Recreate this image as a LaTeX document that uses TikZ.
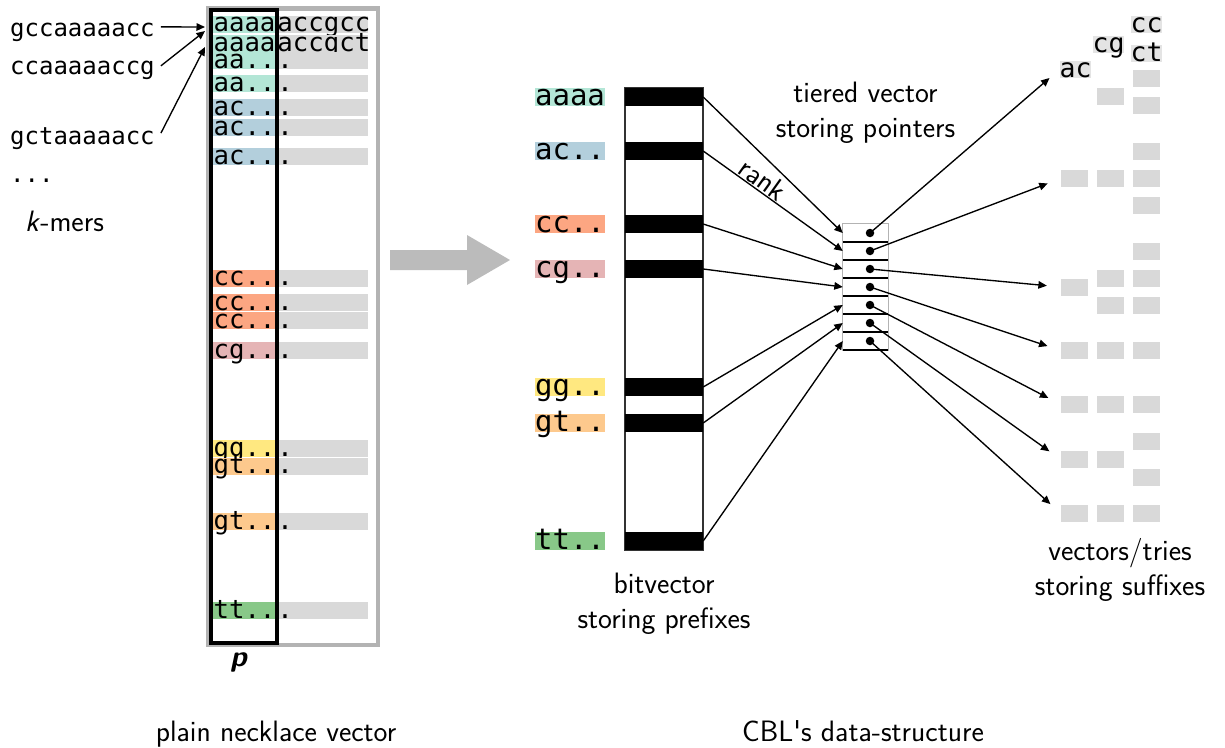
\documentclass[tikz,border=0pt]{standalone}
\usepackage{fontspec}
\setmonofont{DejaVu Sans Mono}
\usepackage{tikz}
\usetikzlibrary{positioning,arrows.meta}

\definecolor{aaC}{RGB}{179,230,214}
\definecolor{acC}{RGB}{179,207,220}
\definecolor{ccC}{RGB}{252,166,130}
\definecolor{cgC}{RGB}{229,180,181}
\definecolor{ggC}{RGB}{255,232,128}
\definecolor{gtC}{RGB}{253,201,141}
\definecolor{ttC}{RGB}{136,200,136}
\definecolor{barC}{RGB}{217,217,217}
\definecolor{frameC}{RGB}{179,179,179}
\definecolor{bigarrC}{RGB}{187,187,187}

\begin{document}
\begin{tikzpicture}[x=1pt,y=-1pt,
    kmer/.style={font=\fontsize{24}{28}\selectfont\ttfamily, anchor=base west, inner xsep=6pt, inner ysep=0pt},
    rowL/.style={font=\fontsize{25.7}{30}\selectfont\ttfamily, minimum width=63pt, text height=16pt, text depth=1pt, inner sep=0pt},
    rowR/.style={rowL, fill=barC, text width=91pt, align=left, minimum width=0pt},
    pre/.style={font=\fontsize{29}{34}\selectfont\ttfamily, minimum width=70pt, text height=17pt, text depth=1pt, inner sep=0pt},
    bit/.style={fill=black, minimum width=78pt, minimum height=18pt, inner sep=0pt},
    cell/.style={minimum width=45pt, minimum height=18pt, inner sep=0pt},
    dot/.style={circle, fill=black, minimum size=8.5pt, inner sep=0pt},
    sq/.style={fill=barC, minimum width=27pt, minimum height=17pt, inner sep=0pt},
    hdr/.style={sq, fill=barC!70, font=\fontsize{26.5}{30}\selectfont\ttfamily, text height=16pt, text depth=1pt, minimum height=0pt},
    lbl/.style={font=\fontsize{29.5}{35}\selectfont\sffamily, align=center},
    arr/.style={-{Triangle[length=8.5pt,width=7.5pt]}, line width=1.35pt}]

\useasboundingbox (0,0) rectangle (1225,747);

% k-mers on the left
\node[kmer] (km1) at (4,36) {gccaaaaacc};
\node[kmer] (km2) at (4,74) {ccaaaaaccg};
\node[kmer] (km3) at (4,144) {gctaaaaacc};
\node[kmer] (km4) at (4,182) {...};
\node[lbl, anchor=base west, inner sep=0pt] (kml) at (25,231.5) {\textit{k}-mers};

% plain necklace vector
\draw[frameC, line width=4.5pt] (208,8.5) rectangle (378,645);
\node[rowL, fill=aaC] (row1) at (244.5,24) {aaaa};     \node[rowR, right=1pt of row1] {accgcc};
\node[rowL, fill=aaC] (row2) at (244.5,43.5) {aaaa};   \node[rowR, right=1pt of row2] {accgct};
\node[rowL, fill=aaC] (row3) at (244.5,60.5) {aa..};   \node[rowR, right=1pt of row3] {.};
\node[rowL, fill=aaC] (row4) at (244.5,83.5) {aa..};   \node[rowR, right=1pt of row4] {.};
\node[rowL, fill=acC] (row5) at (244.5,107.5) {ac..};  \node[rowR, right=1pt of row5] {.};
\node[rowL, fill=acC] (row6) at (244.5,127.5) {ac..};  \node[rowR, right=1pt of row6] {.};
\node[rowL, fill=acC] (row7) at (244.5,156.5) {ac..};  \node[rowR, right=1pt of row7] {.};
\node[rowL, fill=ccC] (row8) at (244.5,278) {cc..};    \node[rowR, right=1pt of row8] {.};
\node[rowL, fill=ccC] (row9) at (244.5,302.5) {cc..};  \node[rowR, right=1pt of row9] {.};
\node[rowL, fill=ccC] (row10) at (244.5,320.5) {cc..}; \node[rowR, right=1pt of row10] {.};
\node[rowL, fill=cgC] (row11) at (244.5,350.5) {cg..}; \node[rowR, right=1pt of row11] {.};
\node[rowL, fill=ggC] (row12) at (244.5,448.5) {gg..}; \node[rowR, right=1pt of row12] {.};
\node[rowL, fill=gtC] (row13) at (244.5,466) {gt..};   \node[rowR, right=1pt of row13] {.};
\node[rowL, fill=gtC] (row14) at (244.5,521.5) {gt..}; \node[rowR, right=1pt of row14] {.};
\node[rowL, fill=ttC] (row15) at (244.5,610.5) {tt..}; \node[rowR, right=1pt of row15] {.};
\node[draw, line width=4pt, minimum width=65.5pt, minimum height=632.5pt, inner sep=0pt] (pcol) at (243.75,326.25) {};
\node[font=\fontsize{29.5}{35}\selectfont\sffamily\bfseries\itshape, below=8pt of pcol, xshift=-5pt, inner sep=0pt] (plbl) {p};

\coordinate (a1) at (205,27);
\coordinate (a2) at (205,31);
\coordinate (a3) at (205,47);
\draw[arr] ([yshift=5pt]km1.east) -- (a1);
\draw[arr] ([yshift=4pt]km2.east) -- (a2);
\draw[arr] ([yshift=5pt]km3.east) -- (a3);

% big arrow
\fill[bigarrC] (390,250) -- (467,250) -- (467,235) -- (510,260) -- (467,285) -- (467,270) -- (390,270) -- cycle;

% bitvector
\node[draw=black!80, line width=1.5pt, minimum width=78pt, minimum height=462pt, inner sep=0pt] (bv) at (664,319) {};
\node[bit] (bit1) at (664,97) {};
\node[bit] (bit2) at (664,151) {};
\node[bit] (bit3) at (664,224) {};
\node[bit] (bit4) at (664,269) {};
\node[bit] (bit5) at (664,387) {};
\node[bit] (bit6) at (664,423) {};
\node[bit] (bit7) at (664,541) {};
\node[pre, fill=aaC] (pre1) at (570,97) {aaaa};
\node[pre, fill=acC] (pre2) at (570,151) {ac..};
\node[pre, fill=ccC] (pre3) at (570,224) {cc..};
\node[pre, fill=cgC] (pre4) at (570,269) {cg..};
\node[pre, fill=ggC] (pre5) at (570,387) {gg..};
\node[pre, fill=gtC] (pre6) at (570,423) {gt..};
\node[pre, fill=ttC] (pre7) at (570,541) {tt..};
\node[lbl, below=19pt of bv] (bvl) {bitvector\\storing prefixes};

% tiered vector
\node[cell] (tv1) at (865.5,233) {};
\node[cell] (tv2) at (865.5,251) {};
\node[cell] (tv3) at (865.5,269) {};
\node[cell] (tv4) at (865.5,287) {};
\node[cell] (tv5) at (865.5,305) {};
\node[cell] (tv6) at (865.5,323) {};
\node[cell] (tv7) at (865.5,341) {};
\draw[frameC, line width=1.2pt] (tv1.north west) rectangle (tv7.south east);
\foreach \i in {1,...,7} {
  \draw[line width=1.5pt] (tv\i.south west) -- (tv\i.south east);
  \node[dot] (pt\i) at ([xshift=4.5pt]tv\i.center) {};
}
\node[lbl, above=77pt of tv1] (tvl) {tiered vector\\storing pointers};

\draw[arr] (bit1.east) -- (tv1.west);
\draw[arr] (bit2.east) -- node[lbl, sloped, above, pos=0.38, inner sep=1pt] {rank} (tv2.west);
\draw[arr] (bit3.east) -- (tv3.west);
\draw[arr] (bit4.east) -- (tv4.west);
\draw[arr] (bit5.east) -- (tv5.west);
\draw[arr] (bit6.east) -- (tv6.west);
\draw[arr] (bit7.east) -- (tv7.west);

% vectors/tries of suffixes
\node[hdr] (hac) at (1075.5,69.5) {ac};
\node[hdr] (hcg) at (1108.5,44.5) {cg};
\node[hdr] (hcc) at (1146.5,24.5) {cc};
\node[hdr] (hct) at (1146.5,53.5) {ct};
\node[sq] (sq1) at (1074.5,178.5) {};
\node[sq] (sq2) at (1074.5,287) {};
\node[sq] (sq3) at (1074.5,350.5) {};
\node[sq] (sq4) at (1074.5,404.5) {};
\node[sq] (sq5) at (1074.5,459.5) {};
\node[sq] (sq6) at (1074.5,513.5) {};
\foreach \x/\y in {1146.5/78.5, 1110.5/96.5, 1146.5/105.5, 1146.5/151, 1110.5/178.5, 1146.5/178.5,
    1146.5/205.5, 1146.5/251, 1110.5/278, 1146.5/278, 1110.5/305, 1146.5/305, 1110.5/350.5, 1146.5/350.5,
    1110.5/404.5, 1146.5/404.5, 1146.5/441.5, 1110.5/459.5, 1146.5/477, 1110.5/513.5, 1146.5/513.5}
  \node[sq] at (\x,\y) {};
\node[lbl] (sfl) at (1120,570) {vectors/tries\\storing suffixes};

\draw[arr, shorten >=13pt] (pt1.center) -- (hac.west);
\draw[arr, shorten >=14pt] (pt2.center) -- (sq1.west);
\draw[arr, shorten >=14pt] (pt3.center) -- (sq2.west);
\draw[arr, shorten >=14pt] (pt4.center) -- (sq3.west);
\draw[arr, shorten >=14pt] (pt5.center) -- (sq4.west);
\draw[arr, shorten >=14pt] (pt6.center) -- (sq5.west);
\draw[arr, shorten >=14pt] (pt7.center) -- (sq6.west);

% captions
\node[lbl, anchor=base] (cap1) at (276,741) {plain necklace vector};
\node[lbl, anchor=base] (cap2) at (863,741) {CBL\textquotesingle s data-structure};

\end{tikzpicture}
\end{document}
